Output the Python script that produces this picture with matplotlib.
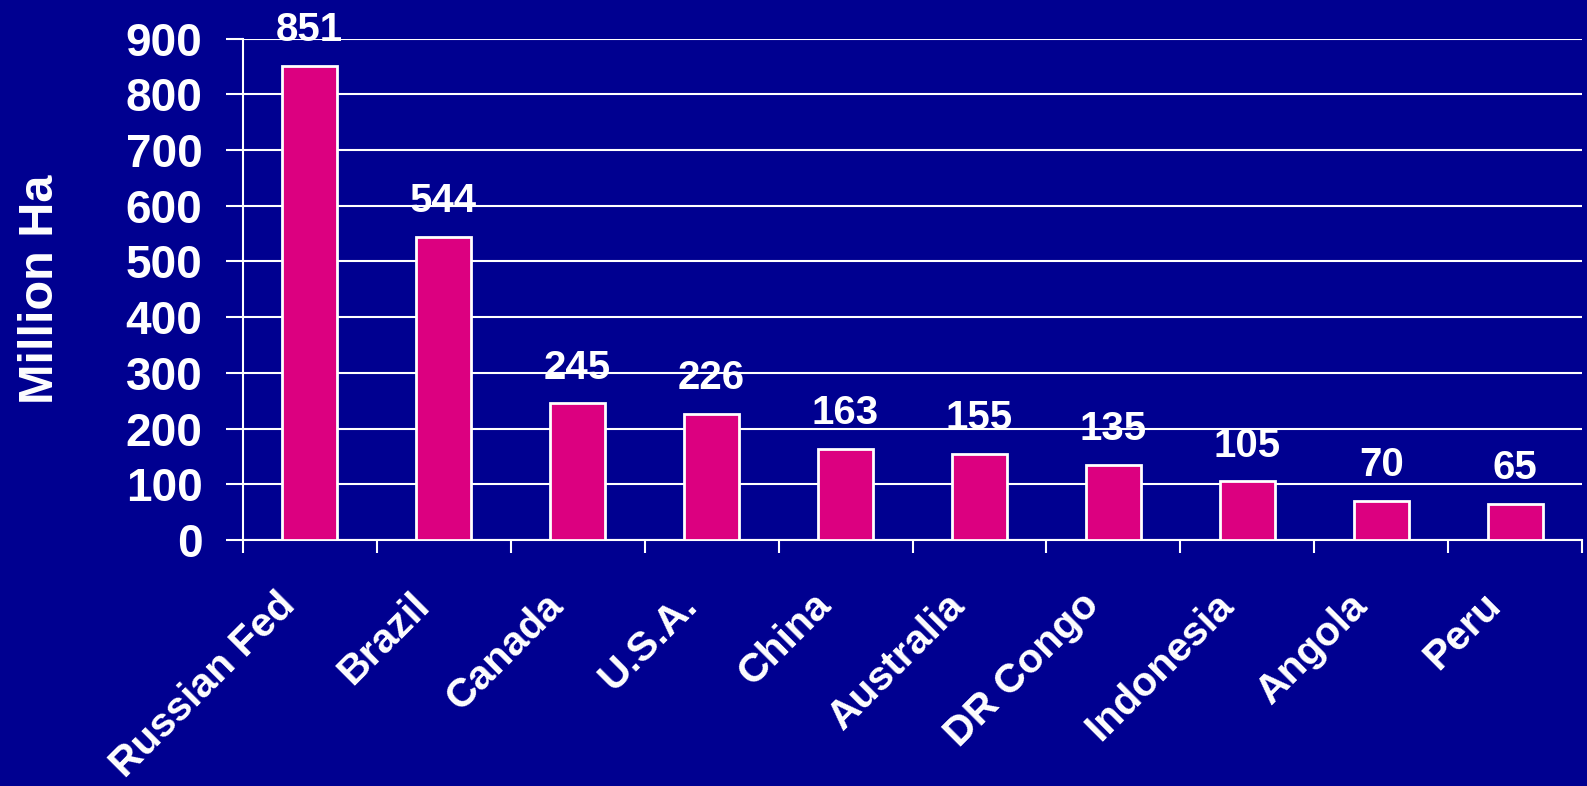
import matplotlib.pyplot as plt
import matplotlib.transforms as mtransforms
import numpy as np

plt.rcParams['font.family'] = ['Liberation Sans', 'DejaVu Sans']

countries = ['Russian Fed', 'Brazil', 'Canada', 'U.S.A.', 'China',
             'Australia', 'DR Congo', 'Indonesia', 'Angola', 'Peru']
forest_area = [851, 544, 245, 226, 163, 155, 135, 105, 70, 65]
yticks = list(range(0, 1000, 100))

bg = '#000090'
bar_color = '#DC0080'

fig = plt.figure(figsize=(15.87, 7.86), dpi=100, facecolor=bg)
ax = fig.add_axes([0.153, 0.313, 0.844, 0.638], facecolor=bg)

x = np.arange(len(countries))
ax.bar(x, forest_area, width=0.41, color=bar_color, edgecolor='white',
       linewidth=2, zorder=3)

for xi, v in zip(x, forest_area):
    ax.annotate(str(v), (xi, v), xytext=(0, 12), textcoords='offset points',
                ha='center', va='bottom', color='white', fontsize=29,
                fontweight='bold', zorder=4)

ax.set_xlim(-0.5, len(countries) - 0.5)
ax.set_ylim(0, 900)
ax.set_yticks(yticks)
ax.set_yticklabels([str(t) for t in yticks], fontsize=33, fontweight='bold',
                   color='white')
ax.yaxis.grid(True, color='white', linewidth=1.5, zorder=1)
ax.tick_params(axis='y', length=12, width=1.5, color='white', pad=17)

# category labels at centers, tick marks at boundaries
ax.set_xticks(x)
ax.set_xticklabels(countries, rotation=45, ha='right', rotation_mode='anchor',
                   fontsize=29.5, fontweight='bold', color='white')
ax.tick_params(axis='x', which='major', length=0, pad=33)
ax.set_xticks(np.arange(-0.5, len(countries)), minor=True)
ax.tick_params(axis='x', which='minor', length=9, width=1.5, color='white')

for side in ['top', 'right']:
    ax.spines[side].set_visible(False)
for side in ['left', 'bottom']:
    ax.spines[side].set_color('white')
    ax.spines[side].set_linewidth(1.5)

ax.set_ylabel('Million Ha', fontsize=35, fontweight='bold', color='white')
ax.yaxis.set_label_coords(-0.134, 0.5)

# nudge the slanted labels left so their ends sit left of the bar centre
shift = mtransforms.ScaledTranslation(-0.335, 0, fig.dpi_scale_trans)
for tick in ax.xaxis.get_major_ticks():
    tick.label1.set_transform(tick.label1.get_transform() + shift)

fig.savefig('out.png', dpi=100, facecolor=bg)
